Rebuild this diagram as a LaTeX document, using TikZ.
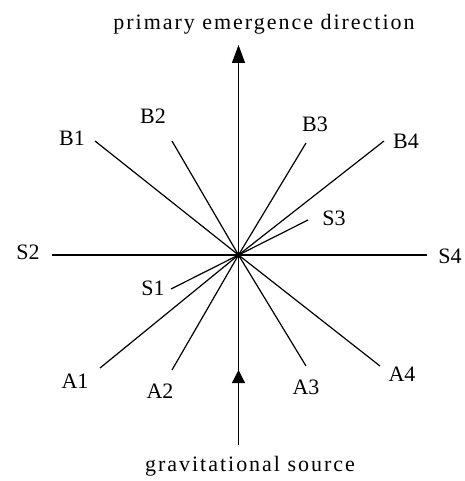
\documentclass[tikz,border=0pt]{standalone}
\usepackage{fontspec}
\setmainfont{Liberation Serif}
\usetikzlibrary{arrows.meta}
\begin{document}
\begin{tikzpicture}[x=1pt,y=-1pt,
  ray/.style={line width=1.2pt},
  lbl/.style={font=\fontsize{22}{24}\selectfont, inner sep=0pt},
  ttl/.style={font=\fontsize{22}{24}\selectfont\addfontfeatures{LetterSpace=9}, inner sep=0pt},
  uptip/.style={-{Triangle[length=18pt,width=13pt]}}]
\useasboundingbox[fill=white] (0,0) rectangle (464,481);
\coordinate (O) at (238.5,255);
\coordinate (top) at (238.5,45);
\coordinate (bot) at (238.5,445);
\coordinate (mid) at (238.5,370);
% ray end points
\coordinate (eB1) at (95,141);
\coordinate (eB2) at (172,141);
\coordinate (eB3) at (306,143);
\coordinate (eB4) at (384,141);
\coordinate (eS3) at (308,220);
\coordinate (eS1) at (171,289);
\coordinate (eA1) at (100,368);
\coordinate (eA2) at (172,370);
\coordinate (eA3) at (306,366);
\coordinate (eA4) at (380,366);
\coordinate (eS2) at (52,255);
\coordinate (eS4) at (427,255);
% labels
\node[ttl] (tt) at (264,24) {primary emergence direction};
\node[ttl] (tb) at (250,466) {gravitational source};
\node[lbl] (B1) at (72,138) {B1};
\node[lbl] (B2) at (153,116) {B2};
\node[lbl] (B3) at (315,124) {B3};
\node[lbl] (B4) at (406,141) {B4};
\node[lbl] (S3) at (334,218) {S3};
\node[lbl] (S2) at (28,252) {S2};
\node[lbl] (S4) at (450,256) {S4};
\node[lbl] (S1) at (153,288) {S1};
\node[lbl] (A1) at (75,381) {A1};
\node[lbl] (A2) at (160,391) {A2};
\node[lbl] (A3) at (306,387) {A3};
\node[lbl] (A4) at (402,374) {A4};
% rays
\foreach \e in {B1,B2,B3,B4,S3,S1,A1,A2,A3,A4}
  \draw[ray] (O) -- (e\e);
\draw[ray] (eS2) -- (eS4);
\draw[ray,uptip] (O) -- (top);
\draw[ray] (bot) -- (O);
\draw[ray,-{Triangle[length=13pt,width=13pt]}] (bot) -- (mid);
\fill (O) circle (3pt);
\end{tikzpicture}
\end{document}
